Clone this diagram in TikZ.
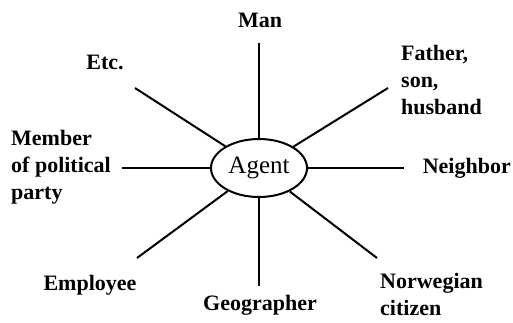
\documentclass[tikz,border=0pt]{standalone}
\usepackage{fontspec}
\setmainfont{Liberation Serif}
\usepackage{tikz}
\usetikzlibrary{shapes.geometric}

\begin{document}
\begin{tikzpicture}[
  x=1pt,y=-1pt,
  every node/.style={font=\fontsize{22}{27}\selectfont\bfseries},
  agent/.style={ellipse,draw=black,line width=2pt,minimum width=96pt,minimum height=58pt,inner sep=0pt,font=\fontsize{25}{27}\selectfont},
  role/.style={align=left,inner sep=0pt},
  spoke/.style={line width=2pt}
]
\useasboundingbox (0,0) rectangle (513,322);
\node[agent] (ag) at (259,168) {Agent};
% outer ends of the spokes
\coordinate (up) at (259,43);
\coordinate (down) at (259,286);
\coordinate (left) at (122,168);
\coordinate (right) at (404,168);
\coordinate (ul) at (135,88);
\coordinate (ur) at (388,88);
\coordinate (ll) at (137,258);
\coordinate (lr) at (377,258);
\foreach \e in {up,down,left,right,ul,ur,ll,lr}
  \draw[spoke] (ag) -- (\e);
\node[role] (man) at (260,20) {Man};
\node[role] (etc) at (105,62) {Etc.};
\node[role,anchor=west] (fam) at (401,80) {Father,\\son,\\husband};
\node[role,anchor=west] (party) at (11,167) {Member\\of political\\party};
\node[role,anchor=east] (nb) at (511,168) {Neighbor};
\node[role] (emp) at (90,285) {Employee};
\node[role] (geo) at (260,305) {Geographer};
\node[role,anchor=west] (nor) at (380,294) {Norwegian\\citizen};
\end{tikzpicture}
\end{document}
